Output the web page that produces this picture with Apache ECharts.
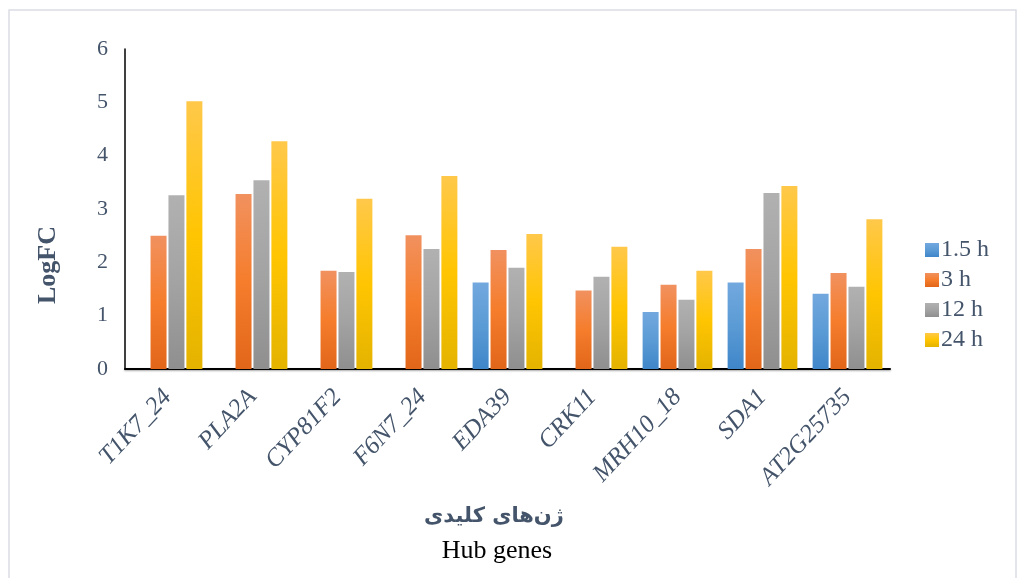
<!DOCTYPE html>
<html>
<head>
<meta charset="utf-8">
<script src="https://cdn.jsdelivr.net/npm/echarts@6/dist/echarts.min.js"></script>
<style>
html,body{margin:0;padding:0;background:#fff;}
#c{width:1025px;height:578px;}
</style>
</head>
<body>
<div id="c"></div>
<script>
const categories = ['T1K7_24','PLA2A','CYP81F2','F6N7_24','EDA39','CRK11','MRH10_18','SDA1','AT2G25735'];
const seriesNames = ['1.5 h','3 h','12 h','24 h'];
const h1_5 = [null, null, null, null, 1.62, null, 1.07, 1.62, 1.41];
const h3   = [2.50, 3.28, 1.84, 2.51, 2.23, 1.47, 1.58, 2.25, 1.80];
const h12  = [3.26, 3.54, 1.82, 2.25, 1.90, 1.73, 1.30, 3.30, 1.54];
const h24  = [5.02, 4.27, 3.19, 3.62, 2.53, 2.29, 1.84, 3.43, 2.81];
const yTicks = [0,1,2,3,4,5,6];

const chart = echarts.init(document.getElementById('c'));
const serif = '"Liberation Serif", "DejaVu Serif", "DejaVu Sans", serif';
const txt = '#44546a';
function grad(top, mid, bottom){
  return new echarts.graphic.LinearGradient(0,0,0,1,[
    {offset:0,color:top},{offset:0.5,color:mid},{offset:1,color:bottom}
  ]);
}
const fills = [
  grad('#72a8de','#5b9bd5','#3f86c9'),
  grad('#f1915f','#f57d2c','#e2661a'),
  grad('#b1b1b1','#a3a3a3','#8f8f8f'),
  grad('#ffc84a','#ffc502','#e4b300')
];
const legendColors = ['#5b9bd5','#f07a35','#a5a5a5','#ffc000'];
const dataSets = [h1_5,h3,h12,h24];

chart.setOption({
  animation:false,
  backgroundColor:'#fff',
  graphic:[
    {type:'rect',shape:{x:9,y:10,width:1007,height:575},style:{fill:'none',stroke:'#dadde3',lineWidth:1.5},silent:true},
    {type:'text',x:48,y:265,rotation:Math.PI/2,style:{text:'LogFC',font:'bold 26px "Liberation Serif", serif',fill:txt,align:'center',verticalAlign:'middle'}}
  ],
  title:[
    {text:'ژن‌های کلیدی',left:489,top:501,textAlign:'center',textStyle:{fontFamily:'"DejaVu Sans", "Noto Sans", sans-serif',fontWeight:'bold',fontSize:21,color:txt}},
    {text:'Hub genes',left:492,top:533,textAlign:'center',textStyle:{fontFamily:serif,fontWeight:'normal',fontSize:26,color:'#000'}}
  ],
  legend:{
    orient:'vertical',left:920,top:233,itemWidth:14,itemHeight:14,itemGap:6,
    icon:'rect',
    textStyle:{fontFamily:serif,fontSize:24,color:txt,padding:[0,0,0,-3]},
    data:seriesNames
  },
  grid:{left:125,right:135,top:49,bottom:209,containLabel:false},
  xAxis:{
    type:'category',data:categories,
    axisLine:{lineStyle:{color:'#000',width:2,shadowColor:'rgba(0,0,0,0.35)',shadowBlur:2,shadowOffsetY:1}},
    axisTick:{show:false},
    axisLabel:{rotate:47,margin:24,interval:0,fontFamily:serif,fontStyle:'italic',fontSize:25,color:txt}
  },
  yAxis:{
    type:'value',min:0,max:6,interval:1,
    axisLine:{show:true,lineStyle:{color:'#000',width:1.5}},
    axisTick:{show:false},
    splitLine:{show:false},
    axisLabel:{margin:17,fontFamily:serif,fontSize:22,color:txt,formatter:function(v){return yTicks.indexOf(v)>=0?String(v):'';}}
  },
  series:dataSets.map(function(d,i){
    return {
      name:seriesNames[i],type:'bar',data:d,barWidth:16,barGap:'12%',
      itemStyle:{color:fills[i]},
      color:legendColors[i]
    };
  })
});
</script>
</body>
</html>
